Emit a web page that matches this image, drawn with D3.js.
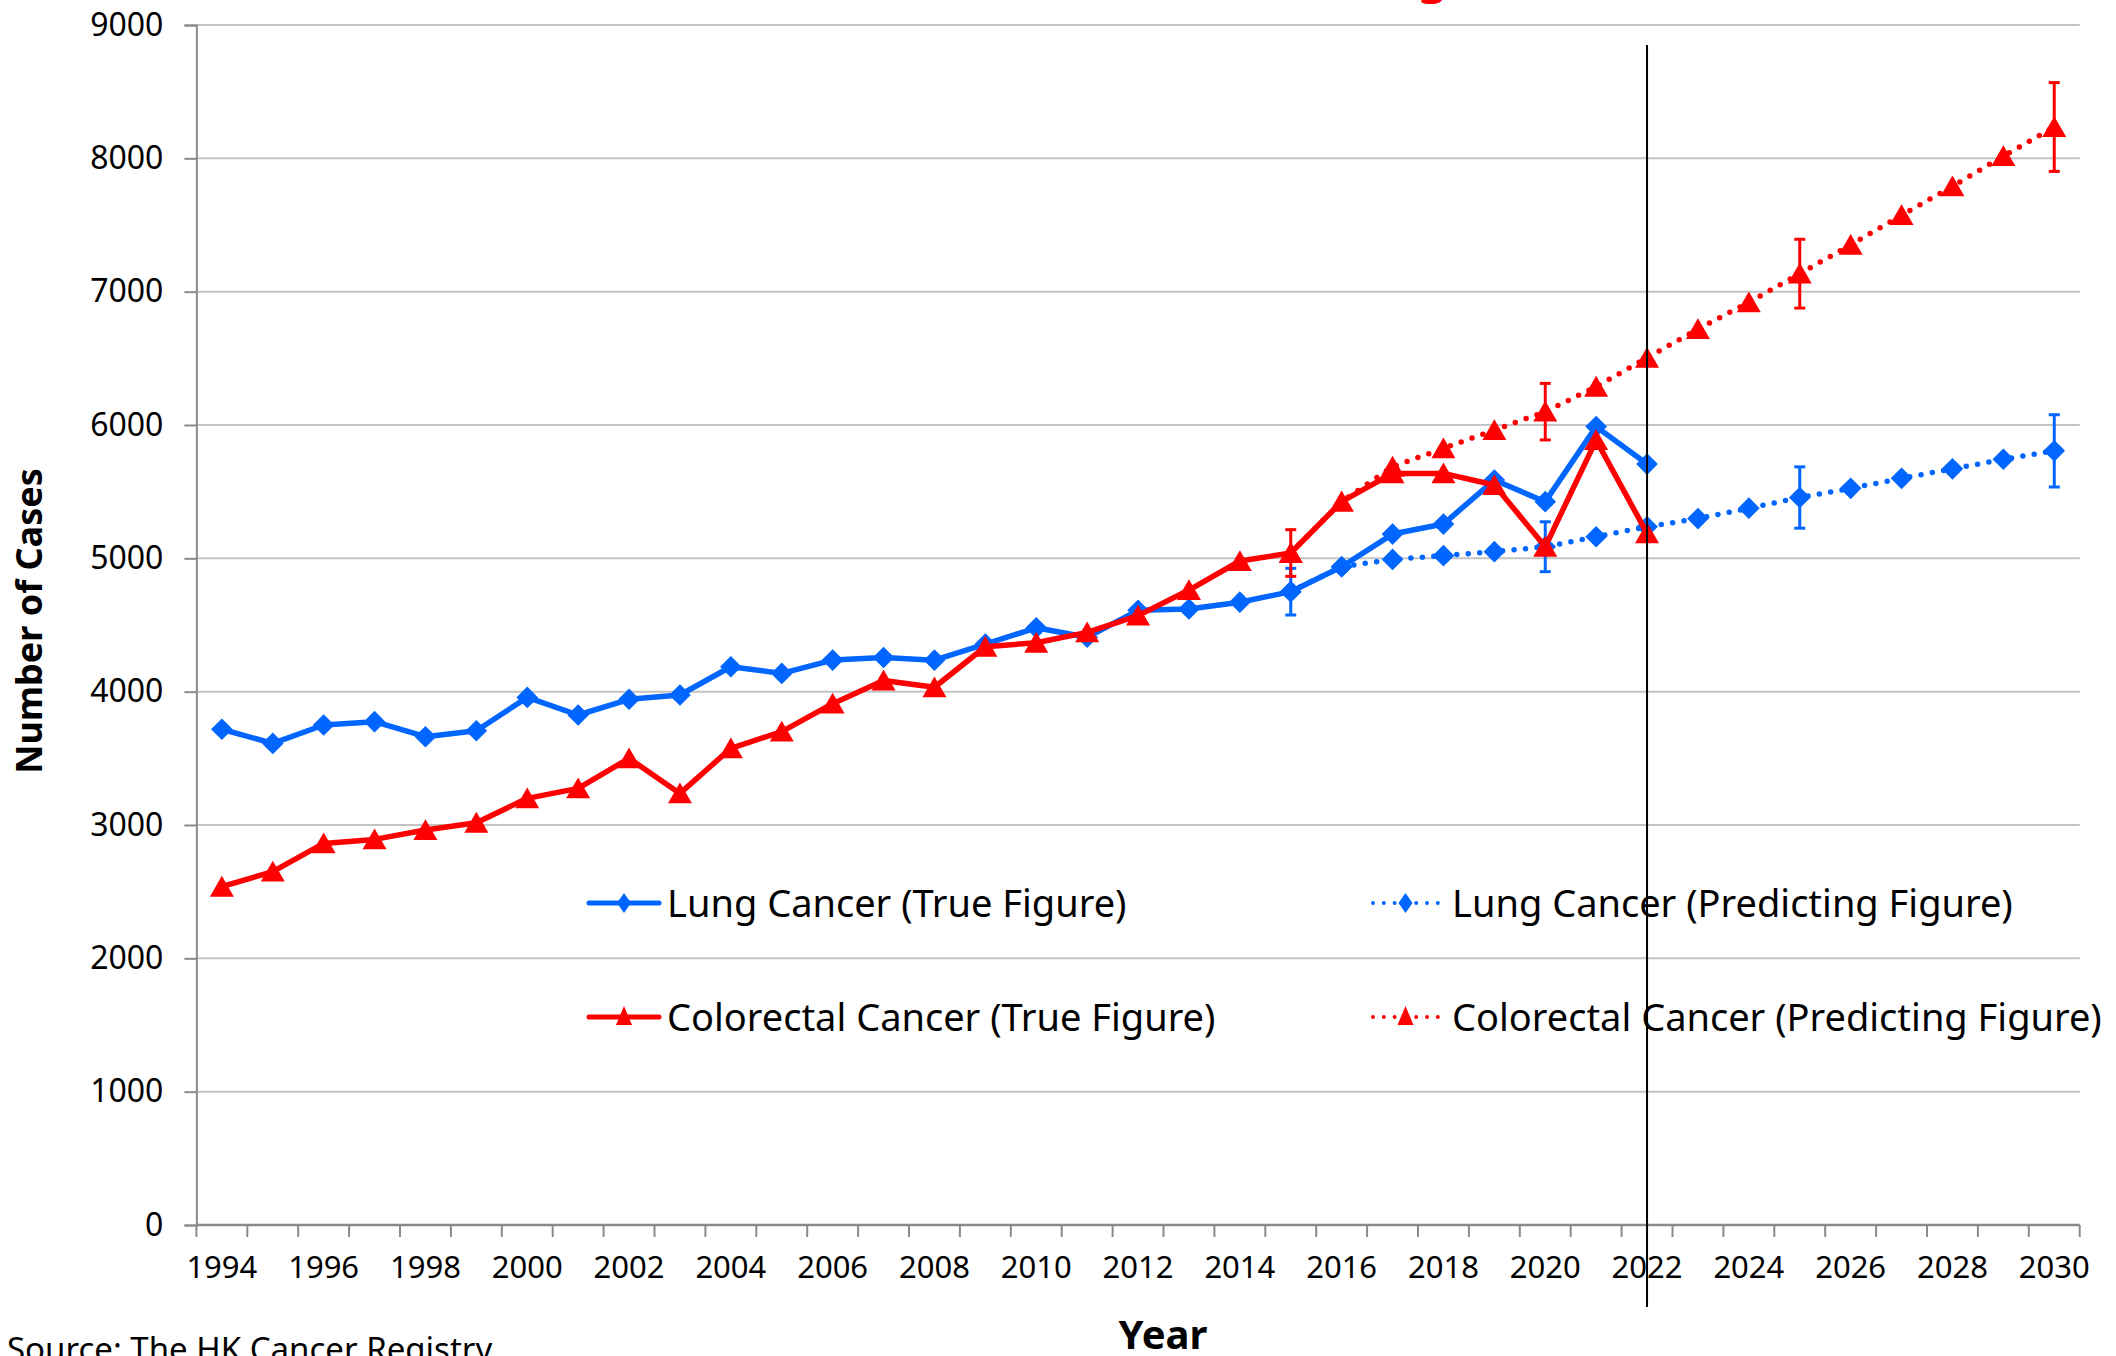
<!DOCTYPE html>
<html>
<head>
<meta charset="utf-8">
<script src="https://cdn.jsdelivr.net/npm/d3@7"></script>
<style>
  body { margin: 0; background: #ffffff; }
  svg { display: block; font-family: "Noto Sans", "Open Sans", sans-serif; }
</style>
</head>
<body>
<div id="visContainer"></div>
<script>
// years on the category axis
var years = [];
for (var yr = 1994; yr <= 2030; yr++) years.push(yr);
var tickLabelYears = [1994, 1996, 1998, 2000, 2002, 2004, 2006, 2008, 2010, 2012, 2014, 2016, 2018, 2020, 2022, 2024, 2026, 2028, 2030];
var yTicks = [0, 1000, 2000, 3000, 4000, 5000, 6000, 7000, 8000, 9000];

var trueYears = [1994, 1995, 1996, 1997, 1998, 1999, 2000, 2001, 2002, 2003, 2004, 2005, 2006, 2007, 2008, 2009, 2010, 2011, 2012, 2013, 2014, 2015, 2016, 2017, 2018, 2019, 2020, 2021, 2022];
var lungTrue = [3718, 3612, 3750, 3775, 3662, 3707, 3957, 3825, 3943, 3975, 4187, 4137, 4237, 4256, 4236, 4357, 4479, 4408, 4610, 4620, 4671, 4750, 4937, 5182, 5257, 5587, 5425, 5988, 5707];
var colorectalTrue = [2537, 2650, 2862, 2892, 2962, 3017, 3200, 3275, 3500, 3237, 3575, 3700, 3910, 4084, 4033, 4337, 4367, 4445, 4570, 4762, 4980, 5040, 5425, 5637, 5637, 5550, 5087, 5887, 5187];

var predYears = [2015, 2016, 2017, 2018, 2019, 2020, 2021, 2022, 2023, 2024, 2025, 2026, 2027, 2028, 2029, 2030];
var lungPred = [4750, 4937, 4992, 5020, 5050, 5087, 5162, 5237, 5298, 5376, 5456, 5525, 5600, 5671, 5743, 5806];
var colorectalPred = [5040, 5425, 5687, 5825, 5962, 6100, 6287, 6504, 6719, 6920, 7135, 7351, 7574, 7790, 8017, 8235];
// error bars (only drawn where not null)
var lungErr = [175, null, null, null, null, 187, null, null, null, null, 230, null, null, null, null, 271];
var colorectalErr = [175, null, null, null, null, 212, null, null, null, null, 258, null, null, null, null, 333];

var dividerYear = 2022;

var BLUE = "#0066ff";
var RED = "#ff0000";

var W = 2116, H = 1356;
var margin = { top: 25, bottom: 131, left: 196.4, right: 36.3 };

var svg = d3.select("#visContainer").append("svg")
    .attr("width", W)
    .attr("height", H);

var xScale = d3.scaleBand().domain(years).range([margin.left, W - margin.right]).padding(0);
var yScale = d3.scaleLinear().domain([0, 9000]).range([H - margin.bottom, margin.top]);
var cx = function (y) { return xScale(y) + xScale.bandwidth() / 2; };

// title (cut off at the top of the picture)
svg.append("text")
    .attr("x", 1433).attr("y", -8)
    .attr("text-anchor", "middle")
    .attr("font-size", 48).attr("font-weight", "bold")
    .attr("fill", RED)
    .text("g");

// gridlines
svg.append("g").attr("class", "grid")
    .selectAll("line").data(yTicks.filter(function (d) { return d > 0; }))
    .enter().append("line")
    .attr("x1", margin.left).attr("x2", W - margin.right)
    .attr("y1", function (d) { return yScale(d); })
    .attr("y2", function (d) { return yScale(d); })
    .attr("stroke", "#c3c3c3").attr("stroke-width", 2);

// y axis
var yAxis = svg.append("g")
    .attr("class", "axis axis-y")
    .attr("transform", "translate(" + margin.left + ",0)")
    .call(d3.axisLeft(yScale).tickValues(yTicks).tickSize(12).tickPadding(21).tickFormat(d3.format("d")));
yAxis.select(".domain").attr("stroke", "#8a8a8a").attr("stroke-width", 2);
yAxis.selectAll(".tick line").attr("stroke", "#8a8a8a").attr("stroke-width", 2);
yAxis.selectAll("text").attr("font-size", 32).attr("fill", "#000").attr("font-family", "Noto Sans");

// x axis: ticks on category boundaries
var xAxisG = svg.append("g")
    .attr("class", "axis axis-x")
    .attr("transform", "translate(0," + (H - margin.bottom) + ")");
xAxisG.append("line")
    .attr("x1", margin.left).attr("x2", W - margin.right)
    .attr("y1", 0).attr("y2", 0)
    .attr("stroke", "#8a8a8a").attr("stroke-width", 2.5);
var bounds = years.map(function (d) { return xScale(d); }).concat([xScale.range()[1]]);
xAxisG.selectAll("line.tk").data(bounds).enter().append("line")
    .attr("class", "tk")
    .attr("x1", function (d) { return d; }).attr("x2", function (d) { return d; })
    .attr("y1", 0).attr("y2", 12)
    .attr("stroke", "#8a8a8a").attr("stroke-width", 2);
xAxisG.selectAll("text").data(tickLabelYears).enter().append("text")
    .attr("x", function (d) { return cx(d); })
    .attr("y", 53)
    .attr("text-anchor", "middle")
    .attr("font-size", 31)
    .text(function (d) { return d; });

// axis titles
svg.append("text")
    .attr("transform", "translate(42,621) rotate(-90)")
    .attr("text-anchor", "middle")
    .attr("font-size", 36).attr("font-weight", "bold")
    .text("Number of Cases");
svg.append("text")
    .attr("x", 1163).attr("y", 1349)
    .attr("text-anchor", "middle")
    .attr("font-size", 40).attr("font-weight", "bold")
    .text("Year");
svg.append("text")
    .attr("x", 7).attr("y", 1361)
    .attr("font-size", 33)
    .text("Source: The HK Cancer Registry");

// series
var diamondPath = d3.symbol().type(d3.symbolSquare).size(235);
var trianglePath = d3.symbol().type(d3.symbolTriangle).size(250);

var line = d3.line()
    .x(function (d) { return cx(d.year); })
    .y(function (d) { return yScale(d.value); });

function makeData(ys, vs, errs) {
    return ys.map(function (y, i) { return { year: y, value: vs[i], err: errs ? errs[i] : null }; });
}

var series = [
    { name: "lungTrue", data: makeData(trueYears, lungTrue), color: BLUE, dotted: false, marker: "diamond" },
    { name: "lungPred", data: makeData(predYears, lungPred, lungErr), color: BLUE, dotted: true, marker: "diamond" },
    { name: "crcTrue", data: makeData(trueYears, colorectalTrue), color: RED, dotted: false, marker: "triangle" },
    { name: "crcPred", data: makeData(predYears, colorectalPred, colorectalErr), color: RED, dotted: true, marker: "triangle" }
];

series.forEach(function (s) {
    var g = svg.append("g").attr("class", "series " + s.name);
    g.append("path")
        .datum(s.data)
        .attr("d", line)
        .attr("fill", "none")
        .attr("stroke", s.color)
        .attr("stroke-width", 5.5)
        .attr("stroke-linecap", "round")
        .attr("stroke-linejoin", "round")
        .attr("stroke-dasharray", s.dotted ? "0 11.5" : null);

    // error bars
    var eb = g.selectAll("g.err").data(s.data.filter(function (d) { return d.err != null; }))
        .enter().append("g").attr("class", "err");
    eb.append("line")
        .attr("x1", function (d) { return cx(d.year); }).attr("x2", function (d) { return cx(d.year); })
        .attr("y1", function (d) { return yScale(d.value + d.err); })
        .attr("y2", function (d) { return yScale(d.value - d.err); })
        .attr("stroke", s.color).attr("stroke-width", 3);
    [1, -1].forEach(function (sign) {
        eb.append("line")
            .attr("x1", function (d) { return cx(d.year) - 5.5; }).attr("x2", function (d) { return cx(d.year) + 5.5; })
            .attr("y1", function (d) { return yScale(d.value + sign * d.err); })
            .attr("y2", function (d) { return yScale(d.value + sign * d.err); })
            .attr("stroke", s.color).attr("stroke-width", 3);
    });

    var m = g.selectAll("path.mk").data(s.data).enter().append("path")
        .attr("class", "mk")
        .attr("fill", s.color);
    if (s.marker == "diamond") {
        m.attr("d", diamondPath())
            .attr("transform", function (d) { return "translate(" + cx(d.year) + "," + yScale(d.value) + ") rotate(45)"; });
    } else {
        m.attr("d", trianglePath())
            .attr("transform", function (d) { return "translate(" + cx(d.year) + "," + (yScale(d.value) + 3) + ")"; });
    }
});

// divider line at 2022
svg.append("line")
    .attr("x1", cx(dividerYear)).attr("x2", cx(dividerYear))
    .attr("y1", 45).attr("y2", 1307)
    .attr("stroke", "#000").attr("stroke-width", 2);

// legend
var legendItems = [
    { label: "Lung Cancer (True Figure)", x: 589, y: 903, color: BLUE, dotted: false, marker: "diamond" },
    { label: "Lung Cancer (Predicting Figure)", x: 1373, y: 903, color: BLUE, dotted: true, marker: "diamond" },
    { label: "Colorectal Cancer (True Figure)", x: 589, y: 1017, color: RED, dotted: false, marker: "triangle" },
    { label: "Colorectal Cancer (Predicting Figure)", x: 1373, y: 1017, color: RED, dotted: true, marker: "triangle" }
];
var legend = svg.append("g").attr("class", "legend");
legendItems.forEach(function (it) {
    var g = legend.append("g").attr("transform", "translate(" + it.x + "," + it.y + ")");
    var len = it.dotted ? 65 : 70;
    g.append("line")
        .attr("x1", 0).attr("x2", len).attr("y1", 0).attr("y2", 0)
        .attr("stroke", it.color).attr("stroke-width", it.dotted ? 4 : 5)
        .attr("stroke-linecap", "round")
        .attr("stroke-dasharray", it.dotted ? "0 10.8" : null);
    if (it.marker == "diamond") {
        g.append("path").attr("d", "M0,-10L7,0L0,10L-7,0Z")
            .attr("transform", "translate(" + (len / 2) + ",0)").attr("fill", it.color);
    } else {
        g.append("path").attr("d", "M0,-11L8,8L-8,8Z")
            .attr("transform", "translate(" + (len / 2) + ",0)").attr("fill", it.color);
    }
    g.append("text")
        .attr("x", it.dotted ? 79 : 78).attr("y", 13.5)
        .attr("font-size", 38)
        .text(it.label);
});
</script>
</body>
</html>
